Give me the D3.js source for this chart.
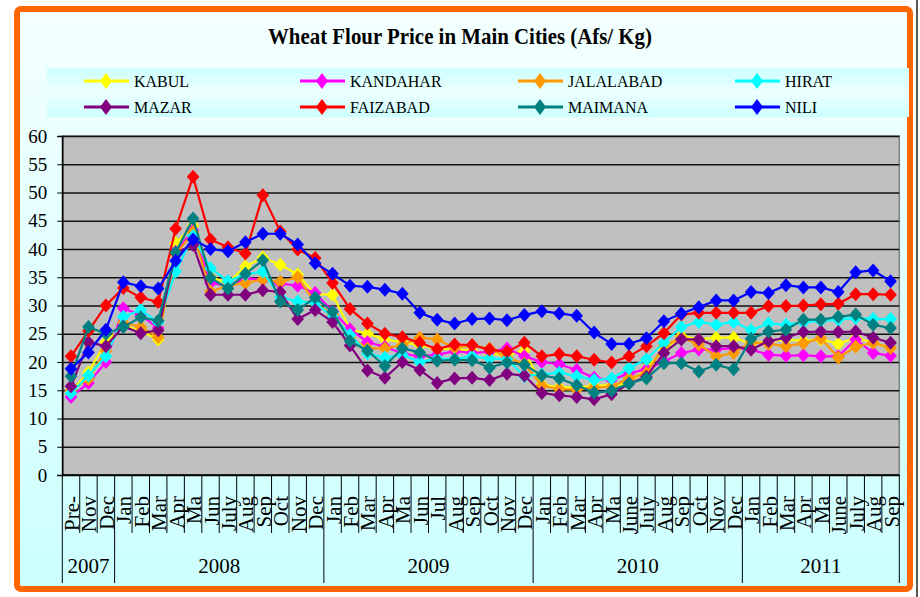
<!DOCTYPE html>
<html>
<head>
<meta charset="utf-8">
<script src="https://cdn.jsdelivr.net/npm/d3@7/dist/d3.min.js"></script>
<style>
body{margin:0;background:#fff;}
svg{display:block;font-family:"Liberation Serif","Times New Roman",serif;}
</style>
</head>
<body>
<svg id="chart" width="920" height="597"></svg>
<script>
//////////////////////////////////////////////////
// データ
var months = ["Pre-","Nov","Dec",
  "Jan","Feb","Mar","Apr","Ma","Jun","July","Aug","Sep","Oct","Nov","Dec",
  "Jan","Feb","Mar","Apr","Ma","Jun","Jul","Aug","Sep","Oct","Nov","Dec",
  "Jan","Feb","Mar","Apr","Ma","June","July","Aug","Sep","Oct","Nov","Dec",
  "Jan","Feb","Mar","Apr","Ma","June","July","Aug","Sep"];
var yearNames = ["2007","2008","2009","2010","2011"];
var yearMonths = [3, 12, 12, 12, 9];
var yTicks = [0,5,10,15,20,25,30,35,40,45,50,55,60];

var cities = ["KABUL","KANDAHAR","JALALABAD","HIRAT","MAZAR","FAIZABAD","MAIMANA","NILI"];
var colors = ["#FFFF00","#FF00FF","#FF9900","#00FFFF","#800080","#FF0000","#008080","#0000FF"];

var kabul = [14.8,18.2,23.5,26.5,25.5,24.0,41.0,44.1,35.0,34.0,36.9,38.5,37.2,35.5,32.0,31.9,25.8,25.0,24.0,23.5,23.0,22.3,22.3,22.0,21.5,21.2,22.0,16.0,15.5,15.5,15.8,15.9,16.2,18.9,22.2,24.6,24.0,24.3,24.3,23.2,23.7,24.0,23.7,24.0,23.2,24.3,23.4,22.5];
var kandahar = [13.8,16.3,20.0,29.5,28.3,26.0,39.5,43.3,34.0,33.5,34.8,34.6,33.9,33.5,32.2,29.0,25.8,23.5,22.7,21.5,21.0,21.3,21.9,21.6,21.8,22.4,21.0,20.0,19.6,18.6,17.2,16.8,18.0,18.7,20.1,21.6,22.2,22.2,22.5,22.2,21.3,21.1,21.2,21.0,21.0,24.0,21.6,21.1];
var jalalabad = [15.0,17.0,22.0,27.0,26.2,24.4,39.0,43.0,32.5,33.5,34.0,34.6,34.2,35.0,30.5,28.3,24.3,22.4,22.4,23.0,24.3,24.0,22.5,22.9,22.4,20.8,19.7,15.8,15.2,15.1,15.5,15.6,17.1,18.0,22.8,24.3,23.1,21.0,21.6,23.5,23.2,22.8,23.3,24.2,20.8,22.7,23.4,22.5];
var hirat = [14.5,17.6,21.0,28.0,29.2,27.0,36.0,42.3,36.6,34.3,35.5,36.0,31.5,30.7,30.5,28.0,24.8,21.5,20.8,21.3,20.0,20.6,20.5,21.0,20.6,20.5,17.5,17.8,18.1,17.5,16.8,17.1,18.9,20.5,23.4,26.2,27.1,26.6,27.1,25.6,26.8,26.6,27.0,27.3,27.5,27.8,27.6,27.6];
var mazar = [15.7,23.5,22.8,26.3,25.1,25.6,39.3,40.7,31.9,31.9,31.9,32.7,32.4,27.6,29.2,27.1,22.9,18.5,17.2,20.0,18.6,16.3,17.1,17.2,16.8,17.9,17.6,14.5,14.1,13.8,13.4,14.3,16.2,17.4,21.6,24.0,24.0,22.8,22.8,22.2,23.7,24.3,25.3,25.4,25.3,25.4,24.3,23.4];
var faizabad = [21.0,25.5,30.0,33.1,31.4,30.6,43.6,52.8,41.7,40.3,39.2,49.5,43.1,39.9,38.4,34.0,29.4,26.8,25.0,24.4,23.4,22.3,23.1,23.0,22.2,21.8,23.4,21.0,21.4,21.0,20.4,19.9,21.0,22.8,25.1,28.4,28.7,28.7,28.7,28.7,29.9,29.9,30.0,30.2,30.3,32.0,32.0,31.9];
var maimana = [17.5,26.2,25.0,26.2,27.9,27.3,39.4,45.4,34.9,33.0,35.6,38.0,30.7,29.2,31.4,28.9,23.7,22.0,19.3,22.4,21.7,20.2,20.4,20.3,19.0,19.9,19.5,17.6,17.1,15.9,14.6,14.9,16.2,17.1,19.8,19.8,18.3,19.5,18.7,24.1,25.4,25.7,27.5,27.5,28.0,28.4,26.6,26.0];
var nili = [18.8,21.7,25.7,34.1,33.4,33.0,37.9,41.7,40.0,39.6,41.2,42.7,42.7,40.8,37.5,35.6,33.5,33.3,32.8,32.1,28.7,27.5,26.8,27.6,27.7,27.4,28.3,29.0,28.6,28.2,25.2,23.2,23.2,24.2,27.2,28.6,29.7,30.9,30.9,32.4,32.2,33.6,33.2,33.2,32.4,35.9,36.2,34.3];

var values = [kabul, kandahar, jalalabad, hirat, mazar, faizabad, maimana, nili];

//////////////////////////////////////////////////
// 枠
var svg = d3.select("#chart");
var defs = svg.append("defs");

var bg = defs.append("linearGradient").attr("id","bg").attr("x1",0).attr("y1",0).attr("x2",0).attr("y2",1);
bg.append("stop").attr("offset","0%").attr("stop-color","#f4ffff");
bg.append("stop").attr("offset","100%").attr("stop-color","#ccffff");

var lg = defs.append("linearGradient").attr("id","lg").attr("x1",0).attr("y1",0).attr("x2",0).attr("y2",1);
lg.append("stop").attr("offset","0%").attr("stop-color","#ccffff");
lg.append("stop").attr("offset","50%").attr("stop-color","#eeffff");
lg.append("stop").attr("offset","100%").attr("stop-color","#ccffff");

svg.append("rect").attr("x",17).attr("y",9).attr("width",893).attr("height",580)
  .attr("rx",4).attr("fill","url(#bg)").attr("stroke","#FF6600").attr("stroke-width",6);
svg.append("line").attr("x1",917).attr("x2",917).attr("y1",0).attr("y2",597)
  .attr("stroke","#222").attr("stroke-width",1.5);

// タイトル
svg.append("text").attr("x",460).attr("y",44).attr("text-anchor","middle")
  .attr("font-size",24).attr("font-weight","bold")
  .attr("textLength",384).attr("lengthAdjust","spacingAndGlyphs")
  .text("Wheat Flour Price in Main Cities (Afs/ Kg)");

//////////////////////////////////////////////////
// スケール  (top は window.top とぶつかるので別名)
var pLeft = 62.3, pRight = 899.3, pTop = 136, pBottom = 475;
var x = d3.scaleBand().domain(d3.range(months.length)).range([pLeft, pRight]);
var y = d3.scaleLinear().domain([0, 60]).range([pBottom, pTop]);
var cx = function(i){ return x(i) + x.bandwidth()/2; };

// プロット領域
svg.append("rect").attr("x",pLeft).attr("y",pTop).attr("width",pRight-pLeft).attr("height",pBottom-pTop)
  .attr("fill","#C0C0C0").attr("stroke","#808080").attr("stroke-width",1.5);

// グリッド
var grid = svg.append("g").attr("transform","translate(" + pLeft + ",0)")
  .call(d3.axisLeft(y).tickValues(yTicks).tickSize(-(pRight-pLeft)).tickFormat(""));
grid.select(".domain").remove();
grid.selectAll("line").attr("stroke","#111").attr("stroke-width",1.3);

// y軸
var yAxis = svg.append("g").attr("transform","translate(" + pLeft + ",0)")
  .call(d3.axisLeft(y).tickValues(yTicks).tickSize(5).tickPadding(10));
yAxis.select(".domain").attr("stroke","#000").attr("stroke-width",1.5);
yAxis.selectAll("line").attr("stroke","#000");
yAxis.selectAll("text").attr("font-family","Liberation Serif").attr("font-size",19).attr("fill","#000");

// x軸 (月の区切り)
var xg = svg.append("g");
xg.append("line").attr("x1",pLeft).attr("x2",pRight).attr("y1",pBottom).attr("y2",pBottom)
  .attr("stroke","#000").attr("stroke-width",1.5);
var starts = [0];
yearMonths.forEach(function(n, k){ starts.push(starts[k] + n); });
xg.selectAll("line.tick").data(d3.range(months.length + 1)).enter().append("line")
  .attr("class","tick")
  .attr("x1", function(i){ return i < months.length ? x(i) : pRight; })
  .attr("x2", function(i){ return i < months.length ? x(i) : pRight; })
  .attr("y1", pBottom)
  .attr("y2", function(i){ return starts.indexOf(i) >= 0 ? 583 : 533; })
  .attr("stroke","#000").attr("stroke-width",1);

xg.selectAll("text.month").data(months).enter().append("text")
  .attr("class","month")
  .attr("transform", function(d, i){ return "translate(" + (cx(i) + 8) + ",496) rotate(-90)"; })
  .attr("text-anchor","end").attr("font-size",21)
  .text(function(d){ return d; });

xg.selectAll("text.year").data(yearNames).enter().append("text")
  .attr("class","year")
  .attr("x", function(d, k){
    var a = x(starts[k]);
    var b = starts[k+1] < months.length ? x(starts[k+1]) : pRight;
    return (a + b) / 2;
  })
  .attr("y",573).attr("text-anchor","middle").attr("font-size",21)
  .text(function(d){ return d; });

//////////////////////////////////////////////////
// 系列
var diamond = "M0,-7L6.3,0L0,7L-6.3,0Z";
var line = d3.line().x(function(d, i){ return cx(i); }).y(function(d){ return y(d); });

values.forEach(function(vals, s){
  var g = svg.append("g");
  g.append("path").attr("d", line(vals)).attr("fill","none")
    .attr("stroke", colors[s]).attr("stroke-width",2.2);
  g.selectAll("path.pt").data(vals).enter().append("path").attr("class","pt")
    .attr("transform", function(d, i){ return "translate(" + cx(i) + "," + y(d) + ")"; })
    .attr("d", diamond).attr("fill", colors[s]);
});

//////////////////////////////////////////////////
// 凡例
svg.append("rect").attr("x",47).attr("y",68).attr("width",862).attr("height",49).attr("fill","url(#lg)");
var legX = [106, 322, 540, 757];
var legY = [81, 107];
var legDiamond = "M0,-8L6,0L0,8L-6,0Z";
cities.forEach(function(name, k){
  var lx = legX[k % 4], ly = legY[Math.floor(k / 4)];
  var g = svg.append("g").attr("transform","translate(" + lx + "," + ly + ")");
  g.append("line").attr("x1",-22).attr("x2",23).attr("stroke",colors[k]).attr("stroke-width",3);
  g.append("path").attr("d",legDiamond).attr("fill",colors[k]);
  g.append("text").attr("x",28).attr("y",6).attr("font-size",16).text(name);
});
</script>
</body>
</html>
